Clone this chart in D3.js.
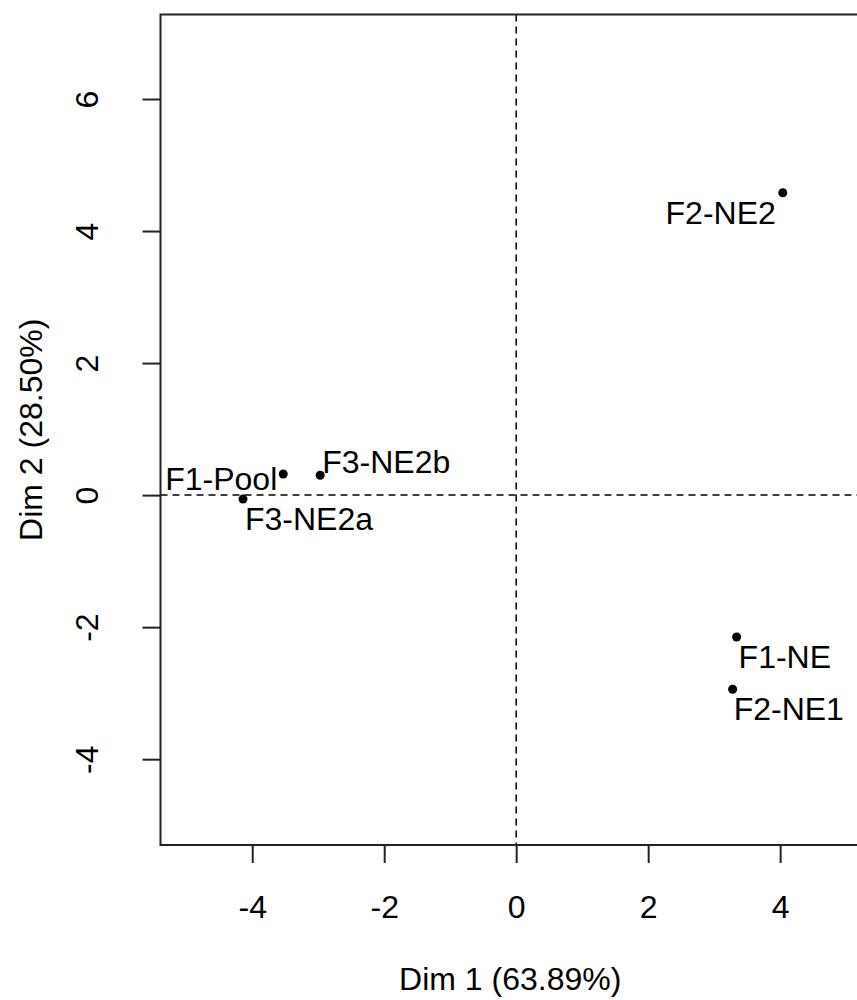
<!DOCTYPE html>
<html>
<head>
<meta charset="utf-8">
<script src="https://cdn.jsdelivr.net/npm/d3@7"></script>
<style>
  body { margin: 0; background: #fff; }
  svg { display: block; font-family: "Liberation Sans", Arial, sans-serif; }
</style>
</head>
<body>
<div id="chart"></div>
<script>
// individuals from the PCA plot
const names = ["F1-Pool", "F3-NE2b", "F3-NE2a", "F2-NE2", "F1-NE", "F2-NE1"];
const dim1 = [-3.53, -2.97, -4.14, 4.04, 3.34, 3.28];
const dim2 = [0.32, 0.30, -0.06, 4.58, -2.15, -2.94];
const xTicks = [-4, -2, 0, 2, 4];
const yTicks = [-4, -2, 0, 2, 4, 6];
const xTitle = "Dim 1 (63.89%)";
const yTitle = "Dim 2 (28.50%)";

// where each label sits relative to its point (repelled like autoLab)
const labelPos = {
  "F1-Pool": { dx: -6, dy: 16, anchor: "end" },
  "F3-NE2b": { dx: 2, dy: -2, anchor: "start" },
  "F3-NE2a": { dx: 2, dy: 31, anchor: "start" },
  "F2-NE2": { dx: -7, dy: 31, anchor: "end" },
  "F1-NE": { dx: 2, dy: 31, anchor: "start" },
  "F2-NE1": { dx: 1, dy: 31, anchor: "start" }
};

const W = 857, H = 1000;
const plot = { left: 160.5, right: 860, top: 14.5, bottom: 845 };
const fs = 32;
const fmt = d => String(d); // R prints a plain hyphen, not a unicode minus

const svg = d3.select("#chart").append("svg")
  .attr("width", W).attr("height", H);

const x = d3.scaleLinear().domain([-5.39, 5.21]).range([plot.left, plot.right]);
const y = d3.scaleLinear().domain([-5.30, 7.28]).range([plot.bottom, plot.top]);

// dashed reference lines through the origin
svg.append("line")
  .attr("x1", plot.left).attr("x2", plot.right)
  .attr("y1", y(0)).attr("y2", y(0))
  .attr("stroke", "#000").attr("stroke-width", 1.5)
  .attr("stroke-dasharray", "7,5");
svg.append("line")
  .attr("x1", x(0)).attr("x2", x(0))
  .attr("y1", plot.top).attr("y2", plot.bottom)
  .attr("stroke", "#000").attr("stroke-width", 1.5)
  .attr("stroke-dasharray", "7,5");

// x axis
const gx = svg.append("g")
  .attr("transform", `translate(0,${plot.bottom})`)
  .call(d3.axisBottom(x).tickValues(xTicks).tickSize(18).tickPadding(32).tickFormat(fmt));
gx.select(".domain").remove();
gx.selectAll("line").attr("stroke", "#222").attr("stroke-width", 2);
gx.selectAll("text").attr("font-size", fs).attr("fill", "#000")
  .attr("font-family", "Liberation Sans, Arial, sans-serif");

// y axis, labels rotated like R's las=0
const gy = svg.append("g")
  .attr("transform", `translate(${plot.left},0)`)
  .call(d3.axisLeft(y).tickValues(yTicks).tickSize(18).tickFormat(fmt));
gy.select(".domain").remove();
gy.selectAll("line").attr("stroke", "#222").attr("stroke-width", 2);
gy.selectAll("text")
  .attr("x", 0).attr("dy", 0)
  .attr("transform", `translate(${98 - plot.left},0) rotate(-90)`)
  .attr("text-anchor", "middle")
  .attr("font-size", fs).attr("fill", "#000")
  .attr("font-family", "Liberation Sans, Arial, sans-serif");

// plot box
svg.append("rect")
  .attr("x", plot.left).attr("y", plot.top)
  .attr("width", plot.right - plot.left).attr("height", plot.bottom - plot.top)
  .attr("fill", "none").attr("stroke", "#222").attr("stroke-width", 2);

// axis titles
svg.append("text")
  .attr("x", (plot.left + plot.right) / 2).attr("y", 990)
  .attr("text-anchor", "middle").attr("font-size", fs)
  .text(xTitle);
svg.append("text")
  .attr("transform", `translate(42,${(plot.top + plot.bottom) / 2}) rotate(-90)`)
  .attr("text-anchor", "middle").attr("font-size", fs)
  .text(yTitle);

// points + labels
const pts = names.map((n, i) => ({ name: n, d1: dim1[i], d2: dim2[i] }));

svg.selectAll(".dot")
  .data(pts)
  .enter()
  .append("circle")
  .attr("class", "dot")
  .attr("cx", d => x(d.d1))
  .attr("cy", d => y(d.d2))
  .attr("r", 4.5)
  .attr("fill", "#000");

svg.selectAll(".lab")
  .data(pts)
  .enter()
  .append("text")
  .attr("class", "lab")
  .attr("x", d => x(d.d1) + labelPos[d.name].dx)
  .attr("y", d => y(d.d2) + labelPos[d.name].dy)
  .attr("text-anchor", d => labelPos[d.name].anchor)
  .attr("font-size", fs)
  .attr("fill", "#000")
  .text(d => d.name);
</script>
</body>
</html>
